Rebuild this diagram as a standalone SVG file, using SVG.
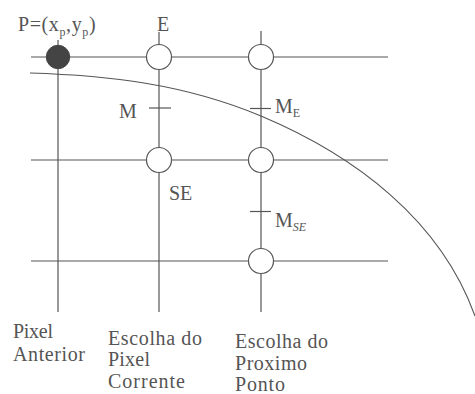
<svg xmlns="http://www.w3.org/2000/svg" width="475" height="394" viewBox="0 0 475 394" font-family="'Liberation Serif', 'DejaVu Serif', 'Times New Roman', serif">
<style>
.ln{stroke:#555;stroke-width:1.2;fill:none}
.cv{stroke:#555;stroke-width:1.1;fill:none}
.nd{stroke:#555;stroke-width:1.2;fill:#fff}
.fd{stroke:#444;stroke-width:1;fill:#444}
text{font-family:'Liberation Serif','DejaVu Serif',serif;font-size:20px;fill:#555}
.sub{font-size:12px}
</style>
<rect width="475" height="394" fill="#fff"/>
<g id="connectors">
<line class="ln" x1="31" y1="57" x2="388" y2="57"/>
<line class="ln" x1="31" y1="160" x2="388" y2="160"/>
<line class="ln" x1="31" y1="261" x2="388" y2="261"/>
<line class="ln" x1="58" y1="40" x2="58" y2="312"/>
<line class="ln" x1="159" y1="32" x2="159" y2="312"/>
<line class="ln" x1="261" y1="31" x2="261" y2="312"/>
<line class="ln" x1="149" y1="108" x2="171" y2="108"/>
<line class="ln" x1="250" y1="108.5" x2="271" y2="108.5"/>
<line class="ln" x1="250" y1="211.5" x2="271" y2="211.5"/>
<path class="cv" d="M30,73 C107,75.3 184,83.7 261,116 C355,155.5 440.6,220 475,316"/>
</g>
<g id="node-P">
<circle class="fd" cx="58" cy="57" r="11.7"/>
<text x="18" y="31" letter-spacing="0.6">P=(x<tspan class="sub" dy="5">p</tspan><tspan dy="-5">,y</tspan><tspan class="sub" dy="5">p</tspan><tspan dy="-5">)</tspan></text>
</g>
<g id="node-E">
<circle class="nd" cx="159" cy="57" r="12.5"/>
<text x="157" y="31">E</text>
</g>
<g id="node-NE">
<circle class="nd" cx="261" cy="57" r="12.5"/>
</g>
<g id="node-SE">
<circle class="nd" cx="159" cy="160" r="12.5"/>
<text x="169" y="200">SE</text>
</g>
<g id="node-NSE">
<circle class="nd" cx="261" cy="160" r="12.5"/>
</g>
<g id="node-SSE">
<circle class="nd" cx="261" cy="261" r="12.5"/>
</g>
<g id="label-M">
<text x="119" y="118">M</text>
</g>
<g id="label-ME">
<text x="275" y="113">M<tspan class="sub" dy="4" font-size="11">E</tspan></text>
</g>
<g id="label-MSE">
<text x="275" y="227">M<tspan class="sub" dy="4" font-size="11" font-style="italic">SE</tspan></text>
</g>
<g id="label-col1">
<text x="13" y="338" textLength="40" lengthAdjust="spacing">Pixel</text>
<text x="13" y="361" textLength="72" lengthAdjust="spacing">Anterior</text>
</g>
<g id="label-col2">
<text x="108" y="345" textLength="94" lengthAdjust="spacing">Escolha do</text>
<text x="108" y="366" textLength="42" lengthAdjust="spacing">Pixel</text>
<text x="108" y="388" textLength="77" lengthAdjust="spacing">Corrente</text>
</g>
<g id="label-col3">
<text x="235" y="348" textLength="93" lengthAdjust="spacing">Escolha do</text>
<text x="235" y="370" textLength="72" lengthAdjust="spacing">Proximo</text>
<text x="235" y="391" textLength="50" lengthAdjust="spacing">Ponto</text>
</g>
</svg>
